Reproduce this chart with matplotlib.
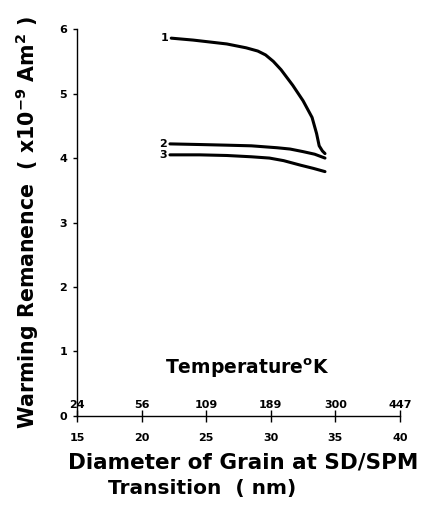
import matplotlib.pyplot as plt
import numpy as np

# diameter (nm) vs warming remanence (x1e-9 Am^2)
d1 = [22.3, 24.0, 26.6, 28.1, 29.0, 29.6, 30.2, 30.8, 31.7, 32.5, 33.2, 33.55, 33.75, 34.0, 34.2]
r1 = [5.86, 5.83, 5.77, 5.71, 5.66, 5.60, 5.50, 5.37, 5.13, 4.89, 4.63, 4.38, 4.19, 4.11, 4.07]
d2 = [22.2, 24.5, 26.6, 28.5, 30.5, 31.5, 32.5, 33.4, 34.2]
r2 = [4.22, 4.21, 4.20, 4.19, 4.16, 4.14, 4.10, 4.06, 4.00]
d3 = [22.2, 24.5, 26.6, 28.5, 29.9, 31.0, 32.3, 33.3, 34.2]
r3 = [4.05, 4.05, 4.04, 4.02, 4.00, 3.96, 3.89, 3.84, 3.79]
curve_names = ['1', '2', '3']

diam_ticks = [15, 20, 25, 30, 35, 40]
temp_labels = ['24', '56', '109', '189', '300', '447']
y_ticks = [0, 1, 2, 3, 4, 5, 6]

plt.rcParams['font.family'] = ['DejaVu Sans']
plt.rcParams['font.weight'] = 'bold'

fig = plt.figure(figsize=(4.25, 5.11), dpi=100)
ax = fig.add_axes([0.181, 0.186, 0.76, 0.757])

for d, r, name in zip([d1, d2, d3], [r1, r2, r3], curve_names):
    ax.plot(d, r, color='black', lw=2.2, solid_capstyle='round', solid_joinstyle='round')
    ax.text(d[0] - 0.2, r[0], name, ha='right', va='center', fontsize=8, fontweight='bold')

ax.set_xlim(15, 40)
ax.set_ylim(0, 6)
ax.spines['top'].set_visible(False)
ax.spines['right'].set_visible(False)
ax.spines['left'].set_linewidth(1.0)
ax.spines['bottom'].set_linewidth(1.0)

ax.set_yticks(y_ticks)
ax.set_yticklabels([str(v) for v in y_ticks], fontsize=8, fontweight='bold')
ax.tick_params(axis='y', direction='out', length=3, width=1, pad=4)

ax.set_xticks(diam_ticks)
ax.set_xticklabels([str(v) for v in diam_ticks], fontsize=8, fontweight='bold')
ax.tick_params(axis='x', direction='inout', length=8, width=1, pad=8)

# temperature labels sit just above the axis
for x, t in zip(diam_ticks, temp_labels):
    ax.annotate(t, (x, 0), xytext=(0, 4), textcoords='offset points',
                ha='center', va='bottom', fontsize=8, fontweight='bold')
ax.annotate('Temperature$^{\\mathbf{o}}$K', (28.2, 0), xytext=(0, 26),
            textcoords='offset points', ha='center', va='bottom',
            fontsize=13.5, fontweight='bold')

ax.set_ylabel('Warming Remanence  ( x10$^{\\mathbf{-9}}$ Am$^{\\mathbf{2}}$ )',
              fontsize=14.8, fontweight='bold', va='center')
ax.yaxis.set_label_coords(-0.155, 0.50)

fig.text(0.572, 0.094, 'Diameter of Grain at SD/SPM', ha='center', va='center',
         fontsize=15.5, fontweight='bold')
fig.text(0.475, 0.045, 'Transition  ( nm)', ha='center', va='center',
         fontsize=14.5, fontweight='bold')

fig.savefig('out.png', dpi=100)
